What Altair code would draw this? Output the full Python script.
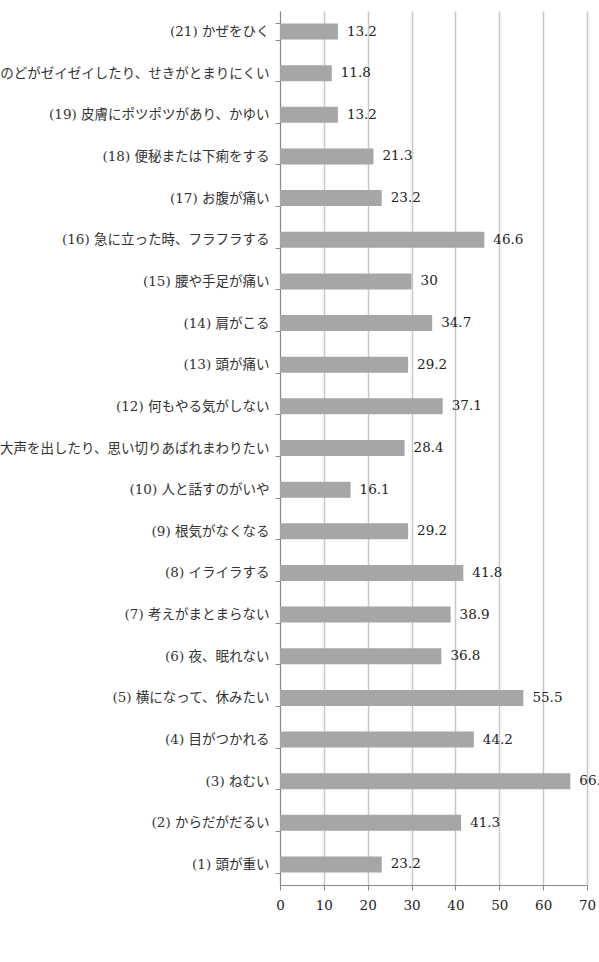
import altair as alt
import pandas as pd

labels = [
    "(1) 頭が重い",
    "(2) からだがだるい",
    "(3) ねむい",
    "(4) 目がつかれる",
    "(5) 横になって、休みたい",
    "(6) 夜、眠れない",
    "(7) 考えがまとまらない",
    "(8) イライラする",
    "(9) 根気がなくなる",
    "(10) 人と話すのがいや",
    "(11) 大声を出したり、思い切りあばれまわりたい",
    "(12) 何もやる気がしない",
    "(13) 頭が痛い",
    "(14) 肩がこる",
    "(15) 腰や手足が痛い",
    "(16) 急に立った時、フラフラする",
    "(17) お腹が痛い",
    "(18) 便秘または下痢をする",
    "(19)  皮膚にポツポツがあり、かゆい",
    "(20) のどがゼイゼイしたり、せきがとまりにくい",
    "(21) かぜをひく",
]
values = [23.2, 41.3, 66.2, 44.2, 55.5, 36.8, 38.9, 41.8, 29.2, 16.1,
          28.4, 37.1, 29.2, 34.7, 30, 46.6, 23.2, 21.3, 13.2, 11.8, 13.2]
value_text = ["23.2", "41.3", "66.2", "44.2", "55.5", "36.8", "38.9", "41.8", "29.2", "16.1",
              "28.4", "37.1", "29.2", "34.7", "30", "46.6", "23.2", "21.3", "13.2", "11.8", "13.2"]
x_ticks = [0, 10, 20, 30, 40, 50, 60, 70]

df = pd.DataFrame({"label": labels, "value": values, "text": value_text})
order = list(reversed(labels))

y = alt.Y("label:N", sort=order, title=None,
          scale=alt.Scale(paddingInner=0.615, paddingOuter=0.3),
          axis=alt.Axis(labelFont="DejaVu Serif, Noto Sans CJK JP", labelFontSize=13.5,
                        labelColor="#333", labelPadding=6, tickSize=5, tickColor="#888",
                        domainColor="#888", domainWidth=1, tickBand="extent",
                        labelLimit=1000, grid=False))
x = alt.X("value:Q", title=None,
          scale=alt.Scale(domain=[0, 70], nice=False),
          axis=alt.Axis(values=x_ticks, labelFont="DejaVu Serif", labelFontSize=13.5,
                        labelColor="#222", tickSize=5, tickColor="#888", domainColor="#888",
                        gridColor="#c8c8c8", gridWidth=1.5, labelPadding=8, labelFlush=False))

bars = alt.Chart(df).mark_bar(color="#a6a6a6").encode(x=x, y=y)
text = alt.Chart(df).mark_text(align="left", dx=9, font="DejaVu Serif", fontSize=13.5,
                               color="#222").encode(x="value:Q", y=alt.Y("label:N", sort=order), text="text:N")

chart = (bars + text).properties(
    width=307, height=874,
    autosize=alt.AutoSizeParams(type="none"),
    padding={"left": 280, "top": 11, "right": 12, "bottom": 77},
).configure_view(stroke=None)

chart.save("out.html", embed_options={"renderer": "svg", "actions": False})
